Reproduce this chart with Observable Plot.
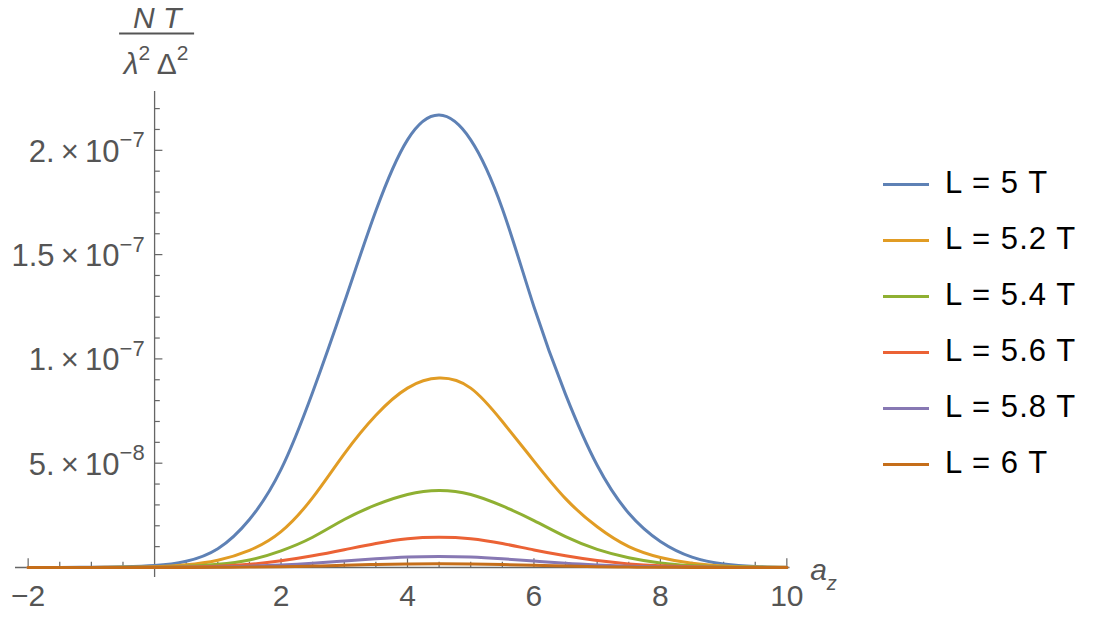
<!DOCTYPE html>
<html><head><meta charset="utf-8">
<script src="https://cdn.jsdelivr.net/npm/d3@7"></script>
<script src="https://cdn.jsdelivr.net/npm/@observablehq/plot@0.6"></script>
<style>
body{margin:0;background:#fff;}
#wrap{position:relative;width:1105px;height:621px;font-family:"Liberation Sans",Arial,sans-serif;}
#legend{position:absolute;left:883px;top:156px;}
.row{display:flex;align-items:center;height:56px;}
.sw{width:46px;height:3px;margin-right:16px;}
.lab{font-size:31px;color:#000;line-height:31px;letter-spacing:1.1px;margin-top:-4px;}
</style></head><body><div id="wrap"></div>
<script>
// data (values in units of 1e-8)
const xs = [-2,-1.5,-1,-0.5,0,0.5,1,1.5,2,2.5,3,3.5,4,4.5,5,5.5,6,6.5,7,7.5,8,8.5,9,9.5,10];
const seriesNames = ["L = 5 T","L = 5.2 T","L = 5.4 T","L = 5.6 T","L = 5.8 T","L = 6 T"];
const colors = ["#5E81B5","#E19C24","#8FB032","#EB6235","#8778B3","#C56E1A"];
const vL50 = [0,0.002,0.01,0.035,0.09,0.3,0.9,2.3,4.7,8.4,12.7,17.1,20.5,21.69,20.5,17.2,12.5,8.3,4.9,2.6,1.25,0.5,0.17,0.05,0.015];
const vL52 = [0,0.001,0.004,0.014,0.04,0.13,0.35,0.82,1.72,3.35,5.45,7.3,8.6,9.08,8.6,7.0,5.1,3.3,1.95,1.0,0.48,0.2,0.07,0.02,0.006];
const vL54 = [0,0,0.002,0.006,0.017,0.055,0.15,0.36,0.8,1.45,2.3,3.0,3.5,3.69,3.5,2.95,2.25,1.48,0.87,0.47,0.22,0.09,0.03,0.009,0.002];
const vL56 = [0,0,0,0.003,0.008,0.025,0.065,0.15,0.32,0.56,0.85,1.15,1.38,1.45,1.38,1.15,0.84,0.56,0.33,0.17,0.08,0.033,0.011,0.003,0.001];
const vL58 = [0,0,0,0.001,0.003,0.009,0.025,0.057,0.115,0.2,0.31,0.42,0.505,0.53,0.505,0.42,0.31,0.2,0.12,0.06,0.028,0.011,0.004,0.001,0];
const vL60 = [0,0,0,0,0.001,0.003,0.009,0.02,0.04,0.068,0.105,0.143,0.171,0.18,0.171,0.143,0.105,0.068,0.04,0.02,0.009,0.004,0.001,0,0];
const unit = 1e-8;
const xMajor = [-2,2,4,6,8,10];
const xMinor = [-1.5,-1,-0.5,0.5,1,1.5,2.5,3,3.5,4.5,5,5.5,6.5,7,7.5,8.5,9,9.5];
const yMajor = [5e-8,1e-7,1.5e-7,2e-7];
const yMantissa = ["5.","1.","1.5","2."];
const yExponent = ["\u22128","\u22127","\u22127","\u22127"];
const yMinor = d3.range(1,23).filter(k => k % 5 !== 0).map(k => k*1e-8);

const allV = [vL50,vL52,vL54,vL56,vL58,vL60];
const table = [];
allV.forEach((arr,si) => arr.forEach((v,i) => table.push({x: xs[i], y: v*unit, series: seriesNames[si]})));

const axisCol = "#666";
const txtCol = "#555";
const font = "Liberation Sans, Arial, sans-serif";
const xDom = [-2.2, 10.05];
const yDom = [-0.48e-8, 22.82e-8];

const plot = Plot.plot({
  width: 1105, height: 621,
  marginLeft: 15, marginRight: 315.5, marginTop: 91, marginBottom: 44,
  x: {domain: xDom, axis: null},
  y: {domain: yDom, axis: null},
  color: {domain: seriesNames, range: colors},
  style: {fontFamily: font, background: "#fff"},
  marks: [
    Plot.ruleY([0], {x1: xDom[0], x2: xDom[1], stroke: axisCol, strokeWidth: 1.3}),
    Plot.ruleX([0], {y1: yDom[0], y2: yDom[1], stroke: axisCol, strokeWidth: 1.3}),
    Plot.ruleX(xMajor, {x: d => d, y1: 0, y2: 0, insetBottom: 8.7, stroke: axisCol, strokeWidth: 1.2}),
    Plot.ruleX(xMinor, {x: d => d, y1: 0, y2: 0, insetBottom: 5.3, stroke: axisCol, strokeWidth: 1.2}),
    Plot.ruleY(yMajor, {y: d => d, x1: 0, x2: 0, insetRight: -8.3, stroke: axisCol, strokeWidth: 1.2}),
    Plot.ruleY(yMinor, {y: d => d, x1: 0, x2: 0, insetRight: -5.7, stroke: axisCol, strokeWidth: 1.2}),
    Plot.text(xMajor, {x: d => d, y: 0, text: d => d < 0 ? "\u2212" + (-d) : String(d), dy: 29, fontSize: 30, fill: txtCol}),
    Plot.text(yMajor, {x: 0, y: d => d, text: (d,i) => yMantissa[i] + "\u2009\u00d7\u200910", textAnchor: "end", dx: -35, dy: 1.5, fontSize: 31, fill: txtCol}),
    Plot.text(yMajor, {x: 0, y: d => d, text: (d,i) => yExponent[i], textAnchor: "start", dx: -35, dy: -10, fontSize: 22, fill: txtCol}),
    Plot.line(table, {x: "x", y: "y", z: "series", stroke: "series", curve: "natural", strokeWidth: 3})
  ]
});

const wrap = document.getElementById("wrap");
wrap.appendChild(plot);

// axis title (fraction) and x label
const svg = d3.select(plot);
const cx = plot.scale("x").apply(0) + 2;
const g = svg.append("g").attr("fill", txtCol).attr("font-family", font);
g.append("text").attr("x", cx + 1).attr("y", 28).attr("text-anchor", "middle").attr("font-size", 30).attr("font-style", "italic").text("N T");
g.append("line").attr("x1", cx - 37).attr("x2", cx + 38).attr("y1", 33.5).attr("y2", 33.5).attr("stroke", txtCol).attr("stroke-width", 2.2);
const den = g.append("text").attr("x", cx).attr("y", 74).attr("text-anchor", "middle").attr("font-size", 30);
den.append("tspan").attr("font-style", "italic").text("\u03bb");
den.append("tspan").attr("font-size", 21).attr("dy", -14).text("2");
den.append("tspan").attr("dy", 14).text(" \u0394");
den.append("tspan").attr("font-size", 21).attr("dy", -14).text("2");

const ax = plot.scale("x").apply(xDom[1]) + 34;
const az = g.append("text").attr("x", ax).attr("y", 580).attr("font-size", 30).attr("font-style", "italic");
az.append("tspan").text("a");
az.append("tspan").attr("font-size", 20).attr("dy", 10).text("z");

// legend
const leg = document.createElement("div");
leg.id = "legend";
seriesNames.forEach((n,i) => {
  const r = document.createElement("div"); r.className = "row";
  const s = document.createElement("div"); s.className = "sw"; s.style.background = colors[i];
  const t = document.createElement("div"); t.className = "lab"; t.textContent = n;
  r.appendChild(s); r.appendChild(t); leg.appendChild(r);
});
wrap.appendChild(leg);
</script></body></html>
